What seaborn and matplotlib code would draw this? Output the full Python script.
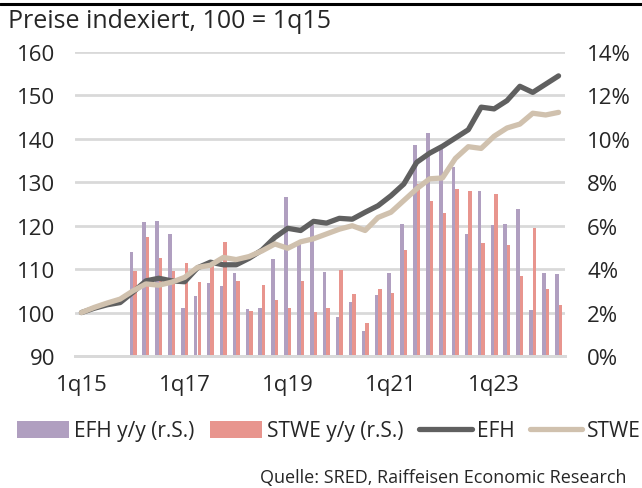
import pandas as pd
import numpy as np
import matplotlib
matplotlib.use('Agg')
import matplotlib.pyplot as plt
import seaborn as sns

quarters = [f'{q}q{y % 100:02d}' for y in range(2015, 2025) for q in range(1, 5)][:38]

# index values, 100 = 1q15
efh = [100.0, 101.0, 101.8, 102.3, 104.7, 107.3, 107.9, 107.3, 107.1, 110.3,
       111.6, 111.0, 111.0, 112.5, 114.4, 117.3, 119.4, 118.9, 121.0, 120.6,
       121.7, 121.5, 123.1, 124.6, 126.9, 129.6, 134.6, 136.7, 138.3, 140.2,
       142.1, 147.3, 146.9, 148.8, 152.1, 150.7, 152.6, 154.5]
stwe = [100.0, 101.2, 102.2, 103.1, 105.0, 106.6, 106.3, 107.0, 108.1, 110.4,
        110.9, 112.7, 112.2, 112.9, 114.2, 115.8, 114.8, 116.3, 117.0, 118.1,
        119.2, 120.0, 118.9, 121.9, 123.1, 125.8, 128.5, 130.8, 131.0, 135.5,
        138.2, 137.8, 140.6, 142.5, 143.4, 145.9, 145.5, 146.1]

# y/y growth in %, from 1q16
efh_yy = [4.78, 6.17, 6.24, 5.60, 2.21, 2.76, 3.38, 3.24, 3.84, 2.17,
          2.20, 4.45, 7.33, 5.18, 6.04, 3.89, 1.81, 2.49, 1.17, 2.81,
          3.82, 6.10, 9.72, 10.28, 9.51, 8.71, 5.62, 7.59, 6.04, 6.07,
          6.79, 2.12, 3.82, 3.79]
stwe_yy = [3.93, 5.47, 4.50, 3.93, 4.27, 3.42, 4.16, 5.27, 3.44, 2.06,
           3.27, 2.58, 2.21, 3.44, 2.03, 2.23, 3.98, 2.86, 1.51, 3.09,
           2.90, 4.87, 7.94, 7.16, 6.60, 7.68, 7.59, 5.21, 7.47, 5.12,
           3.67, 5.90, 3.10, 2.35]

purple = '#b09fc0'
salmon = '#e8958e'
dark = '#606060'
beige = '#d0c1ae'
grid = '#d9d9d9'

sns.set_style('white')
plt.rcParams['font.family'] = ['Open Sans', 'DejaVu Sans']
plt.rcParams['font.size'] = 16

bars = pd.DataFrame({
    'quarter': quarters[4:] * 2,
    'value': efh_yy + stwe_yy,
    'series': ['EFH y/y (r.S.)'] * len(efh_yy) + ['STWE y/y (r.S.)'] * len(stwe_yy),
})
lines = pd.DataFrame({
    'x': list(range(len(quarters))) * 2,
    'value': efh + stwe,
    'series': ['EFH'] * len(efh) + ['STWE'] * len(stwe),
})

fig = plt.figure(figsize=(6.42, 4.89), dpi=100)
ax = fig.add_axes([75 / 642, 1 - 357 / 489, 490 / 642, 304 / 489])

sns.barplot(data=bars, x='quarter', y='value', hue='series', order=quarters,
            palette=[purple, salmon], width=0.54, gap=0, ax=ax, linewidth=0,
            saturation=1)

ax2 = ax.twinx()
sns.lineplot(data=lines, x='x', y='value', hue='series', palette=[dark, beige],
             lw=3.8, ax=ax2, solid_capstyle='round')

# bars on right scale, index lines on left scale
ax.set_ylim(0, 14)
ax.set_yticks(np.arange(0, 15, 2))
ax.set_yticklabels([f'{v}%' for v in range(0, 15, 2)])
ax.yaxis.tick_right()
ax.yaxis.grid(True, color=grid, lw=2)
ax.set_axisbelow(True)

ax2.set_ylim(90, 160)
ax2.set_yticks(range(90, 161, 10))
ax2.yaxis.tick_left()

ax.set_xlim(-0.5, len(quarters) - 0.5)
ax.set_xticks(range(0, len(quarters), 8))
ax.set_xticklabels(quarters[::8])
ax.set_xticks(np.arange(-0.5, len(quarters), 4), minor=True)
ax.tick_params(axis='x', which='major', length=0, pad=13)
ax.tick_params(axis='x', which='minor', direction='in', length=5, color=grid, width=1.5)
ax.tick_params(axis='y', length=0, pad=16)
ax2.tick_params(axis='y', length=0, pad=14)
ax.set_xlabel('')
ax.set_ylabel('')
ax2.set_xlabel('')
ax2.set_ylabel('')

for a in (ax, ax2):
    for s in ['top', 'left', 'right']:
        a.spines[s].set_visible(False)
    a.spines['bottom'].set_color(grid)
    a.spines['bottom'].set_linewidth(2)

h1, l1 = ax.get_legend_handles_labels()
h2, l2 = ax2.get_legend_handles_labels()
ax.get_legend().remove()
ax2.get_legend().remove()
fig.legend(h1 + h2, l1 + l2, loc='center', bbox_to_anchor=(329 / 642, 1 - 432 / 489),
           ncol=4, frameon=False, fontsize=15, handlelength=2.5, handletextpad=0.25,
           columnspacing=0.75, handleheight=0.9, borderaxespad=0, borderpad=0)

fig.text(8 / 642, 1 - 22 / 489, 'Preise indexiert, 100 = 1q15', ha='left', va='center',
         fontsize=18)
fig.text(626 / 642, 1 - 478 / 489, 'Quelle: SRED, Raiffeisen Economic Research',
         ha='right', va='center', fontsize=13)
fig.add_artist(plt.Line2D([0, 1], [1 - 5 / 489, 1 - 5 / 489], color='black', lw=2.2,
                          transform=fig.transFigure))

fig.savefig('out.png', dpi=100)
